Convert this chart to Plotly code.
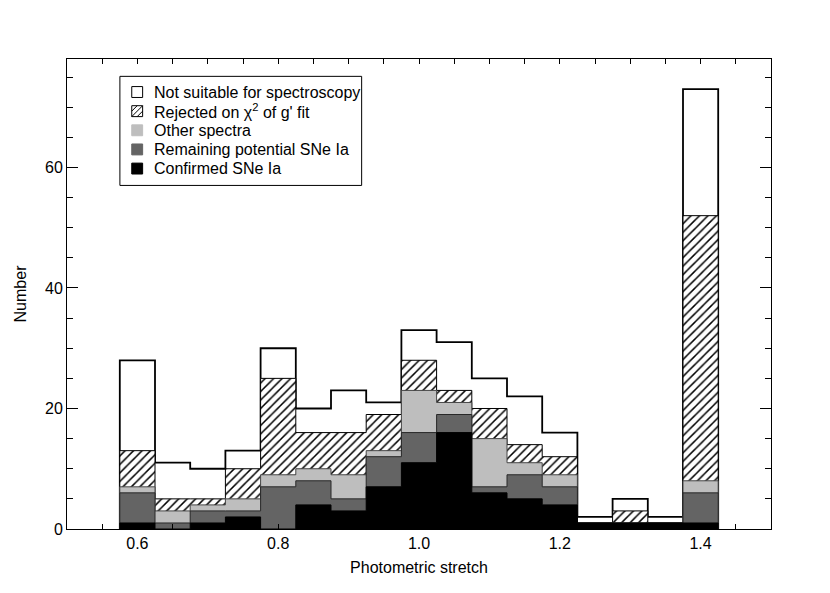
import plotly.graph_objects as go

# ---- data ----
bin_centers = [0.60, 0.65, 0.70, 0.75, 0.80, 0.85, 0.90, 0.95, 1.00,
               1.05, 1.10, 1.15, 1.20, 1.25, 1.30, 1.35, 1.40]
bin_width = 0.05
confirmed    = [1, 0, 1, 2, 0, 4, 3, 7, 11, 16, 6, 5, 4, 1, 1, 1, 1]
remaining    = [5, 1, 2, 1, 7, 4, 2, 5, 5, 3, 1, 4, 3, 0, 0, 0, 5]
other        = [1, 2, 1, 2, 2, 2, 4, 1, 7, 2, 8, 2, 2, 0, 0, 0, 2]
rejected     = [6, 2, 1, 5, 16, 6, 7, 6, 5, 2, 5, 3, 3, 0, 2, 0, 44]
not_suitable = [15, 6, 5, 3, 5, 4, 7, 2, 5, 8, 5, 8, 4, 1, 2, 1, 21]

legend_labels = ["Not suitable for spectroscopy",
                 "Rejected on \u03c7<sup>2</sup> of g' fit",
                 "Other spectra",
                 "Remaining potential SNe Ia",
                 "Confirmed SNe Ia"]
x_tick_vals = [0.6, 0.8, 1.0, 1.2, 1.4]
y_tick_vals = [0, 20, 40, 60]

LIGHT = "rgb(190,190,190)"
DARK = "rgb(100,100,100)"
FONT = "Liberation Sans, Arial, Helvetica, sans-serif"


def cumsum_lists(*lists):
    out = [0] * len(lists[0])
    for lst in lists:
        out = [a + b for a, b in zip(out, lst)]
    return out


lev1 = cumsum_lists(confirmed)
lev2 = cumsum_lists(confirmed, remaining)
lev3 = cumsum_lists(confirmed, remaining, other)
lev4 = cumsum_lists(confirmed, remaining, other, rejected)
lev5 = cumsum_lists(confirmed, remaining, other, rejected, not_suitable)

edges = [c - bin_width / 2 for c in bin_centers] + [bin_centers[-1] + bin_width / 2]


def step_xy(vals):
    x = [edges[0]] + edges + [edges[-1]]
    y = [0] + list(vals) + [vals[-1], 0]
    return x, y


fig = go.Figure()

x, y = step_xy(lev5)
fig.add_trace(go.Scatter(x=x, y=y, mode="lines", line_shape="hv",
                         line=dict(color="black", width=1.8),
                         fill="tozeroy", fillcolor="white",
                         name=legend_labels[0], showlegend=False, hoverinfo="skip"))
x, y = step_xy(lev4)
fig.add_trace(go.Scatter(x=x, y=y, mode="lines", line_shape="hv",
                         line=dict(color="black", width=1),
                         fill="tozeroy", fillcolor="white",
                         fillpattern=dict(shape="/", fgcolor="black", bgcolor="white",
                                          size=6, solidity=0.25, fillmode="replace"),
                         name=legend_labels[1], showlegend=False, hoverinfo="skip"))
x, y = step_xy(lev3)
fig.add_trace(go.Scatter(x=x, y=y, mode="lines", line_shape="hv",
                         line=dict(color="rgb(70,70,70)", width=1),
                         fill="tozeroy", fillcolor=LIGHT,
                         name=legend_labels[2], showlegend=False, hoverinfo="skip"))
x, y = step_xy(lev2)
fig.add_trace(go.Scatter(x=x, y=y, mode="lines", line_shape="hv",
                         line=dict(color="rgb(40,40,40)", width=1),
                         fill="tozeroy", fillcolor=DARK,
                         name=legend_labels[3], showlegend=False, hoverinfo="skip"))
x, y = step_xy(lev1)
fig.add_trace(go.Scatter(x=x, y=y, mode="lines", line_shape="hv",
                         line=dict(color="black", width=1),
                         fill="tozeroy", fillcolor="black",
                         name=legend_labels[4], showlegend=False, hoverinfo="skip"))

# ---- layout geometry (page has an 8px body margin) ----
BODY = 8
W, H = 822, 577
L_M, R_M, T_M, B_M = 51, 59, 51, 52
PLOT_L = BODY + L_M            # 59 on the page
PLOT_B = BODY + H - B_M        # 533 on the page
PW, PH = W - L_M - R_M, H - T_M - B_M


def px(xp):
    return (xp - PLOT_L) / PW


def py(yp):
    return (PLOT_B - yp) / PH


shapes = []
annotations = []
shapes.append(dict(type="rect", xref="paper", yref="paper",
                   x0=px(112.5), x1=px(357), y0=py(186.5), y1=py(76.5),
                   line=dict(color="black", width=1), fillcolor="white", layer="above"))
row_y = [92.3, 111.6, 130.9, 150.2, 169.5]
sw_x0, sw_x1 = 124.5, 135.5
half = 5.5
swatch_fill = ["white", "white", LIGHT, DARK, "black"]
swatch_line = ["black", "black", LIGHT, DARK, "black"]
for i, lab in enumerate(legend_labels):
    yc = row_y[i]
    shapes.append(dict(type="rect", xref="paper", yref="paper",
                       x0=px(sw_x0), x1=px(sw_x1), y0=py(yc + half), y1=py(yc - half),
                       line=dict(color=swatch_line[i], width=1), fillcolor=swatch_fill[i],
                       layer="above"))
    if i == 1:
        segs = []
        for off in [-5.5, 0.0, 5.5]:
            t0 = max(0.0, off)
            t1 = min(11.0, 11.0 + off)
            if t1 > t0:
                xa, ya = sw_x0 + t0, yc + half + off - t0
                xb, yb = sw_x0 + t1, yc + half + off - t1
                segs.append(f"M{px(xa)},{py(ya)} L{px(xb)},{py(yb)}")
        shapes.append(dict(type="path", xref="paper", yref="paper",
                           path=" ".join(segs), line=dict(color="black", width=1),
                           layer="above"))
    annotations.append(dict(xref="paper", yref="paper", x=px(144.5), y=py(yc),
                            xanchor="left", yanchor="middle", showarrow=False,
                            text=lab, font=dict(family=FONT, size=16, color="black")))

fig.update_layout(
    width=W, height=H,
    margin=dict(l=L_M, r=R_M, t=T_M, b=B_M),
    paper_bgcolor="white", plot_bgcolor="white",
    font=dict(family=FONT, size=16, color="black"),
    showlegend=False,
    shapes=shapes,
    annotations=annotations,
    xaxis=dict(range=[0.5, 1.5], tickvals=x_tick_vals, tickformat=".1f",
               ticks="inside", ticklen=5, tickwidth=1, tickcolor="black",
               minor=dict(dtick=0.05, tick0=0.5, ticks="inside", ticklen=5,
                          tickwidth=1, tickcolor="black"),
               showline=True, linecolor="black", linewidth=1, mirror="ticks",
               showgrid=False, zeroline=False,
               title=dict(text="Photometric stretch", font=dict(size=16), standoff=10),
               tickfont=dict(size=16)),
    yaxis=dict(range=[0, 78], tickvals=y_tick_vals,
               ticks="inside", ticklen=11, tickwidth=1, tickcolor="black",
               minor=dict(dtick=5, tick0=0, ticks="inside", ticklen=6,
                          tickwidth=1, tickcolor="black"),
               showline=True, linecolor="black", linewidth=1, mirror="ticks",
               showgrid=False, zeroline=False,
               title=dict(text="Number", font=dict(size=16), standoff=14),
               tickfont=dict(size=16)),
)

fig.write_html("out.html")
